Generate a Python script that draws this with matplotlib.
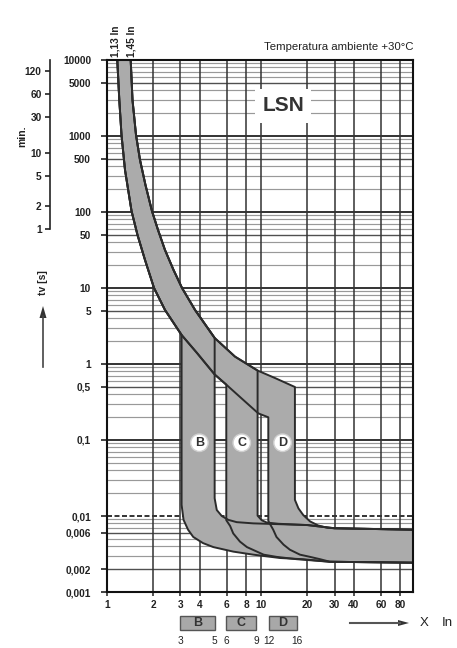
import numpy as np
import matplotlib.pyplot as plt
from matplotlib.patches import Rectangle
from matplotlib.ticker import NullLocator, FixedLocator, FixedFormatter
from matplotlib.transforms import blended_transform_factory

plt.rcParams['font.family'] = ['Liberation Sans', 'DejaVu Sans']

# ---- values: multiple of In  vs  tripping time tv [s] ----
# thermal band, 1,13 In curve (lower) and 1,45 In curve (upper)
lower_I = np.array([1.166, 1.202, 1.242, 1.309, 1.443, 1.578, 1.765, 2.02, 2.38, 3.05,
                    3.84, 5.0, 5.95, 7.68, 9.6, 11.15])
lower_t = np.array([10000, 2976, 1031, 357, 103, 49.8, 23.4, 10.0, 5.14, 2.41,
                    1.396, 0.728, 0.535, 0.336, 0.224, 0.199])
upper_I = np.array([1.425, 1.464, 1.543, 1.638, 1.778, 1.959, 2.144, 2.38, 2.703, 3.07, 3.73,
                    5.0, 6.78, 9.5, 12.3, 16.6])
upper_t = np.array([10000, 2976, 1031, 483, 226, 103, 58, 31.6, 17.3, 10.0, 5.14,
                    2.2, 1.25, 0.82, 0.655, 0.498])

# magnetic release of B, C, D: left / right edges
names = ['B', 'C', 'D']
edge_lo = [3.05, 5.95, 11.15]
edge_hi = [5.0, 9.5, 16.6]

# rounded lower-left corners (running into the bottom line)
b_left_I = [3.05, 3.14, 3.36, 3.63, 4.2, 4.9, 6.6, 8.9, 13.3, 18.7]
b_left_t = [0.014, 0.0089, 0.0066, 0.0053, 0.0044, 0.0039, 0.0034, 0.0031, 0.0028, 0.0027]
c_left_I = [5.95, 6.3, 6.6, 7.3, 8.1, 9.4, 10.4, 12.6, 17.1]
c_left_t = [0.0088, 0.0074, 0.0059, 0.0046, 0.0039, 0.0034, 0.0031, 0.0029, 0.0027]
d_left_I = [11.15, 12.0, 12.6, 14.0, 15.4, 17.9, 20.8, 24.2]
d_left_t = [0.0086, 0.0066, 0.0053, 0.0042, 0.0036, 0.0031, 0.0029, 0.0027]

# rounded upper-right corners (running into the top line)
b_right_I = [5.0, 5.16, 5.56, 6.13, 6.95, 8.9]
b_right_t = [0.0171, 0.012, 0.010, 0.0089, 0.0083, 0.0080]
c_right_I = [9.5, 10.1, 10.9, 13.0]
c_right_t = [0.0101, 0.0088, 0.0082, 0.0079]
d_right_I = [16.6, 17.5, 18.8, 20.8, 23.5, 27.0]
d_right_t = [0.0163, 0.0126, 0.0103, 0.0085, 0.0075, 0.0070]

# common limit lines at the right hand side
bottom_I = np.array([28, 97])
bottom_t = np.array([0.0025, 0.00243])
top_I = np.array([20, 30, 97])
top_t = np.array([0.0076, 0.0069, 0.0066])

x_ticks = [1, 2, 3, 4, 6, 8, 10, 20, 30, 40, 60, 80]
y_ticks = [10000, 5000, 1000, 500, 100, 50, 10, 5, 1, 0.5, 0.1, 0.01, 0.006, 0.002, 0.001]
y_labels = ['10000', '5000', '1000', '500', '100', '50', '10', '5', '1', '0,5', '0,1',
            '0,01', '0,006', '0,002', '0,001']
min_ticks = [1, 2, 5, 10, 30, 60, 120]

# legend boxes under the x axis
box_lo = [3, 5.95, 11.2]
box_hi = [5, 9.3, 17]
box_lo_lab = ['3', '6', '12']
box_hi_lab = ['5', '9', '16']

# circle labels
lab_I = [3.98, 7.5, 13.8]
lab_t = [0.092, 0.092, 0.092]


def region(lo, hi, lI, lt, rI, rt):
    lI, lt, rI, rt = map(np.asarray, (lI, lt, rI, rt))
    m1 = lower_I <= lo
    m2 = bottom_I > lI[-1]
    m3 = top_I > rI[-1]
    m4 = upper_I <= hi
    I = np.concatenate([lower_I[m1], lI, bottom_I[m2], top_I[m3][::-1], rI[::-1], upper_I[m4][::-1]])
    t = np.concatenate([lower_t[m1], lt, bottom_t[m2], top_t[m3][::-1], rt[::-1], upper_t[m4][::-1]])
    return I, t


fig = plt.figure(figsize=(4.57, 6.48), dpi=100)
ax = fig.add_axes([107/457, 1-592/648, 306/457, 532/648])
ax.set_xscale('log')
ax.set_yscale('log')
ax.set_xlim(1, 97)
ax.set_ylim(0.001, 10000)

# grid
for d in [1e-3, 1e-2, 1e-1, 1, 10, 100, 1000]:
    for m in range(1, 10):
        v = m * d
        if m == 1:
            ax.axhline(v, color='#111111', lw=1.2, zorder=1, ls=(0, (3, 1.5)) if np.isclose(v, 0.01) else '-')
        elif np.any(np.isclose(v, y_ticks)):
            ax.axhline(v, color='#505050', lw=1.0, zorder=1)
        else:
            ax.axhline(v, color='#999999', lw=0.85, zorder=1)
for x in x_ticks[1:]:
    ax.axvline(x, color='#333333', lw=1.1, zorder=1.5)

# tripping bands
regs = [region(edge_lo[0], edge_hi[0], b_left_I, b_left_t, b_right_I, b_right_t),
        region(edge_lo[1], edge_hi[1], c_left_I, c_left_t, c_right_I, c_right_t),
        region(edge_lo[2], edge_hi[2], d_left_I, d_left_t, d_right_I, d_right_t)]
for I, t in regs:
    ax.fill(I, t, facecolor='#ababab', edgecolor='none', zorder=3)
for I, t in regs:
    ax.plot(np.r_[I, I[0]], np.r_[t, t[0]], color='#2b2b2b', lw=1.4, zorder=4, solid_joinstyle='round')

for n, xi, ti in zip(names, lab_I, lab_t):
    ax.text(xi, ti, n, ha='center', va='center', fontsize=9, fontweight='bold', color='#333333', zorder=6,
            bbox=dict(boxstyle='circle,pad=0.22', fc='white', ec='#d0d0d0', lw=1))

ax.text(13.9, 2483, 'LSN', ha='center', va='center', fontsize=15, fontweight='bold', color='#333333',
        zorder=6, bbox=dict(boxstyle='square,pad=0.35', fc='white', ec='none'))

# axes styling
for s in ax.spines.values():
    s.set_linewidth(1.5)
    s.set_color('#111111')
    s.set_zorder(7)
ax.xaxis.set_major_locator(FixedLocator(x_ticks))
ax.xaxis.set_major_formatter(FixedFormatter([str(v) for v in x_ticks]))
ax.xaxis.set_minor_locator(NullLocator())
ax.yaxis.set_major_locator(FixedLocator(y_ticks))
ax.yaxis.set_major_formatter(FixedFormatter(y_labels))
ax.yaxis.set_minor_locator(NullLocator())
ax.tick_params(axis='x', length=3, width=1.1, pad=3, labelsize=7.3, colors='#222222')
ax.tick_params(axis='y', length=4.3, width=1.2, pad=7.2, labelsize=7.3, colors='#222222')
for lab in ax.get_xticklabels() + ax.get_yticklabels():
    lab.set_fontweight('bold')

# minutes scale
ax2 = fig.add_axes([50/457, 1-592/648, 0.001, 532/648])
ax2.patch.set_visible(False)
ax2.set_yscale('log')
ax2.set_ylim(0.001/60, 10000/60)
for k in ['top', 'right', 'bottom']:
    ax2.spines[k].set_visible(False)
ax2.spines['left'].set_bounds(1, 10000/60)
ax2.spines['left'].set_linewidth(1.2)
ax2.spines['left'].set_color('#222222')
ax2.set_xticks([])
ax2.yaxis.set_major_locator(FixedLocator(min_ticks))
ax2.yaxis.set_major_formatter(FixedFormatter([str(v) for v in min_ticks]))
ax2.yaxis.set_minor_locator(NullLocator())
ax2.tick_params(axis='y', length=3.6, width=1.2, pad=2.4, labelsize=7.3, colors='#222222')
for lab in ax2.get_yticklabels():
    lab.set_fontweight('bold')

fig.text(22/457, 1-136/648, 'min.', rotation=90, ha='center', va='center', fontsize=7.5,
         fontweight='bold', color='#222222')
fig.text(43/457, 1-283/648, 'tv [s]', rotation=90, ha='center', va='center', fontsize=7.5,
         fontweight='bold', color='#222222')
fig.add_artist(plt.Line2D([43/457, 43/457], [1-367/648, 1-316/648], color='#444444', lw=1.2))
fig.patches.append(plt.Polygon([[39.5/457, 1-318/648], [46.5/457, 1-318/648], [43/457, 1-306/648]],
                               closed=True, transform=fig.transFigure, fc='#333333', ec='none'))

# curve labels on top
trans = blended_transform_factory(ax.transData, fig.transFigure)
for v, s in [(1.13, '1,13 In'), (1.45, '1,45 In')]:
    ax.text(v, 1-57/648, s, transform=trans, rotation=90, ha='center', va='bottom', fontsize=7.3,
            fontweight='bold', color='#222222')
fig.text(413/457, 1-47/648, 'Temperatura ambiente +30°C', ha='right', va='center', fontsize=8.2,
         color='#222222')

# B / C / D boxes under the axis
for n, lo, hi, l1, l2 in zip(names, box_lo, box_hi, box_lo_lab, box_hi_lab):
    fig.patches.append(Rectangle((lo, 1-630/648), hi-lo, 14/648, transform=trans, fc='#a8a8a8',
                                 ec='#555555', lw=1.0))
    fig.text(np.sqrt(lo*hi), 1-623/648, n, transform=trans, ha='center', va='center', fontsize=9,
             fontweight='bold', color='#333333')
    fig.text(lo, 1-641/648, l1, transform=trans, ha='center', va='center', fontsize=7.3, color='#222222')
    fig.text(hi, 1-641/648, l2, transform=trans, ha='center', va='center', fontsize=7.3, color='#222222')

fig.add_artist(plt.Line2D([350/457, 400/457], [1-623/648, 1-623/648], color='#555555', lw=1.5))
fig.patches.append(plt.Polygon([[398/457, 1-620/648], [398/457, 1-626/648], [409/457, 1-623/648]],
                               closed=True, transform=fig.transFigure, fc='#333333', ec='none'))
fig.text(424/457, 1-623/648, 'X', ha='center', va='center', fontsize=9.5, color='#222222')
fig.text(447/457, 1-623/648, 'In', ha='center', va='center', fontsize=9.5, color='#222222')

plt.savefig('out.png', dpi=100)
